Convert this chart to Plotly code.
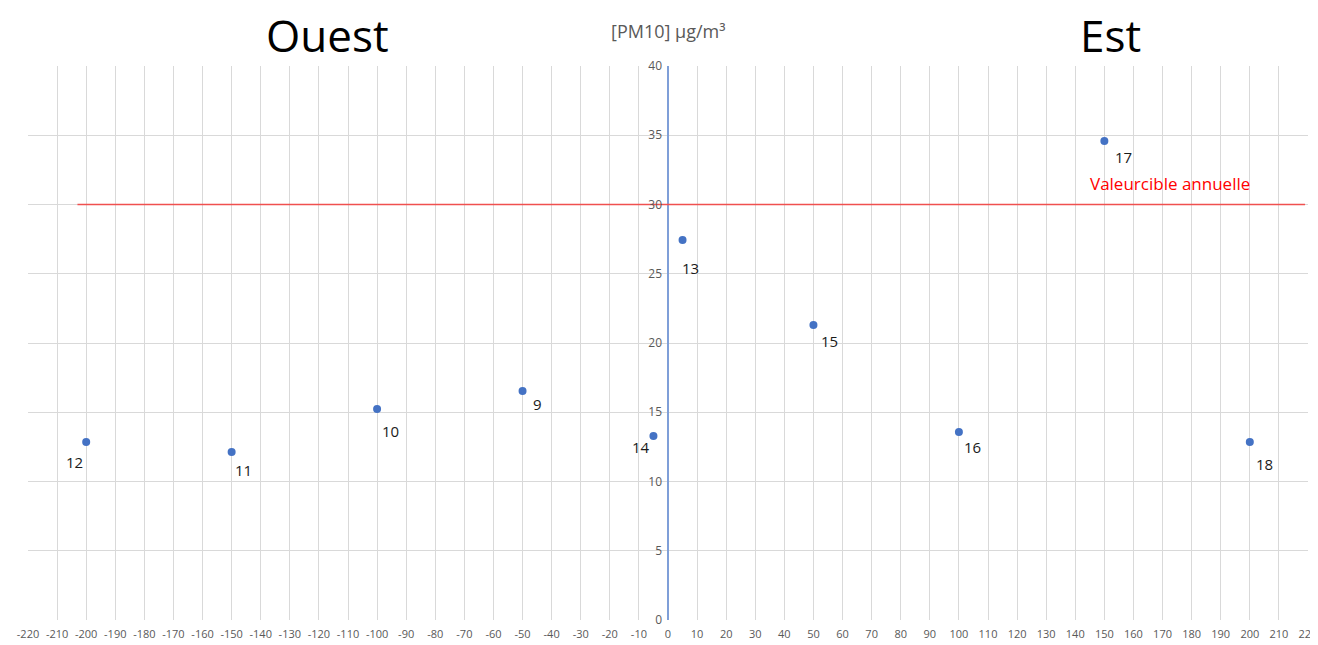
import plotly.graph_objects as go

# Data
site_labels = ["12", "11", "10", "9", "14", "13", "15", "16", "17", "18"]
distance = [-200, -150, -100, -50, -5, 5, 50, 100, 150, 200]
pm10 = [12.85, 12.13, 15.23, 16.53, 13.28, 27.44, 21.3, 13.57, 34.58, 12.85]
target_value = 30
target_label = "Valeurcible annuelle"
x_ticks = list(range(-220, 221, 10))
x_ticktext = [str(v) for v in x_ticks]
y_ticks = list(range(0, 41, 5))

# label pixel offsets (styling)
label_dx = [-12, 12, 13, 15, -12, 8, 16, 14, 19, 15]
label_dy = [-20, -18, -22, -13, -11, -28, -16, -15, -16, -22]

fig = go.Figure()

fig.add_trace(go.Scatter(
    x=[-203, 219], y=[target_value, target_value], mode="lines",
    line=dict(color="#F0504F", width=1.5), hoverinfo="skip", showlegend=False))

fig.add_trace(go.Scatter(
    x=distance, y=pm10, mode="markers",
    marker=dict(color="#4472C4", size=8), showlegend=False))

for lab, x, y, dx, dy in zip(site_labels, distance, pm10, label_dx, label_dy):
    fig.add_annotation(x=x, y=y, text=lab, showarrow=False, xshift=dx, yshift=dy,
                       font=dict(size=15, color="#1a1a1a", family="Open Sans"))

fig.add_annotation(x=172.6, y=31.5, text=target_label, showarrow=False,
                   font=dict(size=17, color="#FF0000", family="Open Sans"))

fig.add_annotation(x=0.234, y=1, xref="paper", yref="paper", yshift=31, text="Ouest",
                   showarrow=False, xanchor="center", yanchor="middle", borderpad=0,
                   font=dict(size=44, color="black", family="Open Sans"))
fig.add_annotation(x=0.8455, y=1, xref="paper", yref="paper", yshift=31, text="Est",
                   showarrow=False, xanchor="center", yanchor="middle", borderpad=0,
                   font=dict(size=44, color="black", family="Open Sans"))
fig.add_annotation(x=0.5, y=1, xref="paper", yref="paper", yshift=35, text="[PM10] µg/m³",
                   showarrow=False, xanchor="center", yanchor="middle",
                   font=dict(size=18, color="#595959", family="Open Sans"))

fig.update_layout(
    width=1310, height=637,
    margin=dict(l=20, r=10, t=58, b=25),
    paper_bgcolor="white", plot_bgcolor="white",
    font=dict(family="Open Sans", color="#595959"),
    xaxis=dict(range=[-220, 220], tickvals=x_ticks, ticktext=x_ticktext,
               showgrid=True, gridcolor="#d9d9d9",
               gridwidth=1, zeroline=True, zerolinecolor="#7f9fd8", zerolinewidth=1.5,
               tickfont=dict(size=11, color="#595959"), tickangle=0, ticks="",
               ticklabelstandoff=6,
               showline=False, domain=[0, 1], automargin=False),
    yaxis=dict(range=[0, 40], tickvals=y_ticks, showgrid=True, gridcolor="#d9d9d9",
               gridwidth=1, zeroline=False, anchor="free", position=0.5,
               tickfont=dict(size=12, color="#595959"), ticks="", showline=False,
               ticklabelstandoff=6, automargin=False),
)

fig.write_html("out.html")
